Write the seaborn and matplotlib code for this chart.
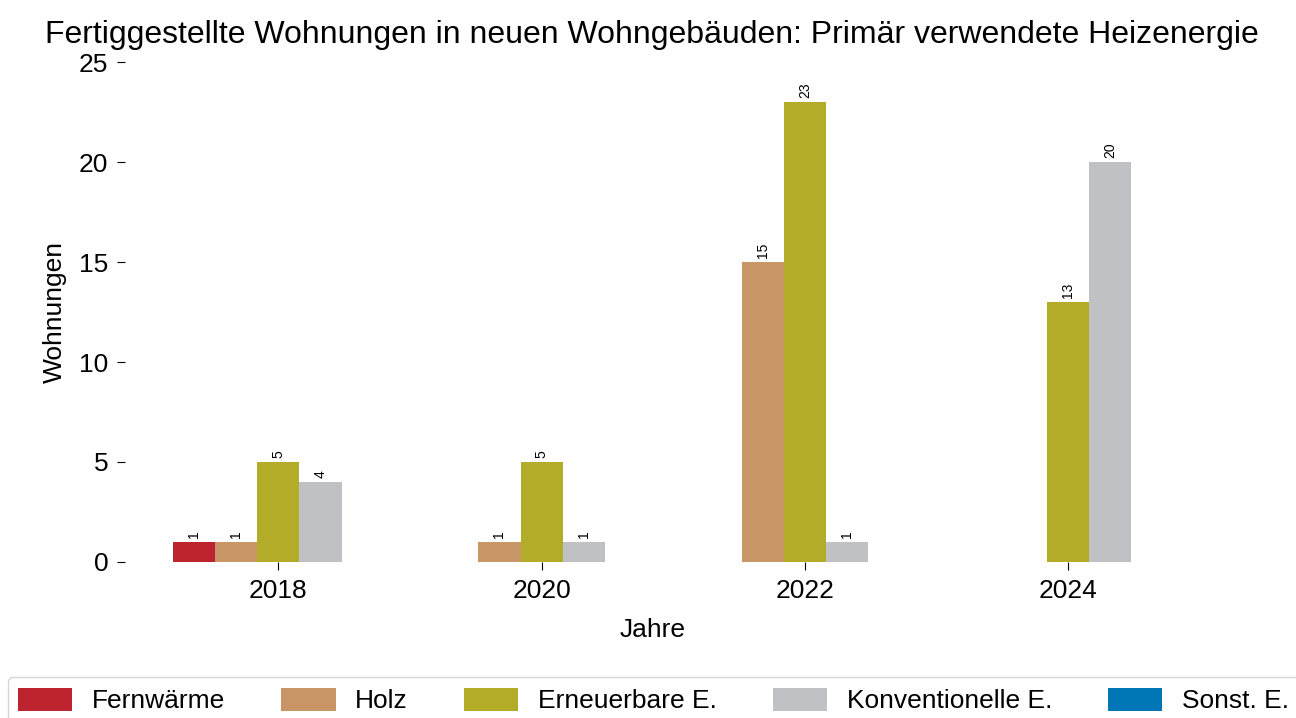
import pandas as pd
import numpy as np

import matplotlib
matplotlib.use('Agg')
import matplotlib.pyplot as plt
import seaborn as sns

# Daten
jahre = ['2018', '2020', '2022', '2024']
energien = ['Fernwärme', 'Holz', 'Erneuerbare E.', 'Konventionelle E.', 'Sonst. E.']
fernwaerme = [1, 0, 0, 0]
holz = [1, 1, 15, 0]
erneuerbare = [5, 5, 23, 13]
konventionelle = [4, 1, 1, 20]
sonstige = [0, 0, 0, 0]
farben = ['#be2330', '#c89666', '#b2ac28', '#c0c1c4', '#0076b6']

werte = [fernwaerme, holz, erneuerbare, konventionelle, sonstige]
df = pd.DataFrame({
    'Jahre': np.tile(jahre, len(energien)),
    'Energie': np.repeat(energien, len(jahre)),
    'Wohnungen': np.concatenate(werte),
})

sns.set_style('ticks')
plt.rcParams['font.family'] = ['Liberation Sans', 'DejaVu Sans']
for key in ['text.color', 'axes.labelcolor', 'xtick.color', 'ytick.color']:
    plt.rcParams[key] = 'black'

fig = plt.figure(figsize=(12.96, 7.18), dpi=100)
ax = fig.add_axes([0.0965, 0.2173, 0.8135, 0.6963])

sns.barplot(data=df, x='Jahre', y='Wohnungen', hue='Energie', order=jahre,
            hue_order=energien, palette=farben, saturation=1, linewidth=0,
            width=0.8, ax=ax)

for container in ax.containers:
    labels = [f'{b.get_height():.0f}' if b.get_height() > 0 else '' for b in container]
    ax.bar_label(container, labels=labels, rotation=90, fontsize=10, padding=3)

ax.set_xlim(-0.582, 3.422)
ax.set_ylim(0, 25)
ax.set_yticks([0, 5, 10, 15, 20, 25])
sns.despine(ax=ax, left=True, bottom=True)
ax.tick_params(axis='both', labelsize=19, length=6, pad=6)

ax.set_title('Fertiggestellte Wohnungen in neuen Wohngebäuden: Primär verwendete Heizenergie',
             fontsize=23, pad=14)
ax.set_xlabel('Jahre', fontsize=19, labelpad=11)
ax.set_ylabel('Wohnungen', fontsize=19, labelpad=9)

handles, labels = ax.get_legend_handles_labels()
ax.get_legend().remove()
fig.legend(handles, labels, loc='upper left', bbox_to_anchor=(0.006, 0.057),
           borderaxespad=0, ncol=5, fontsize=19, handleheight=1.0,
           handlelength=2.05, handletextpad=0.75, columnspacing=2.12, frameon=True)

fig.savefig('out.png', dpi=100)
